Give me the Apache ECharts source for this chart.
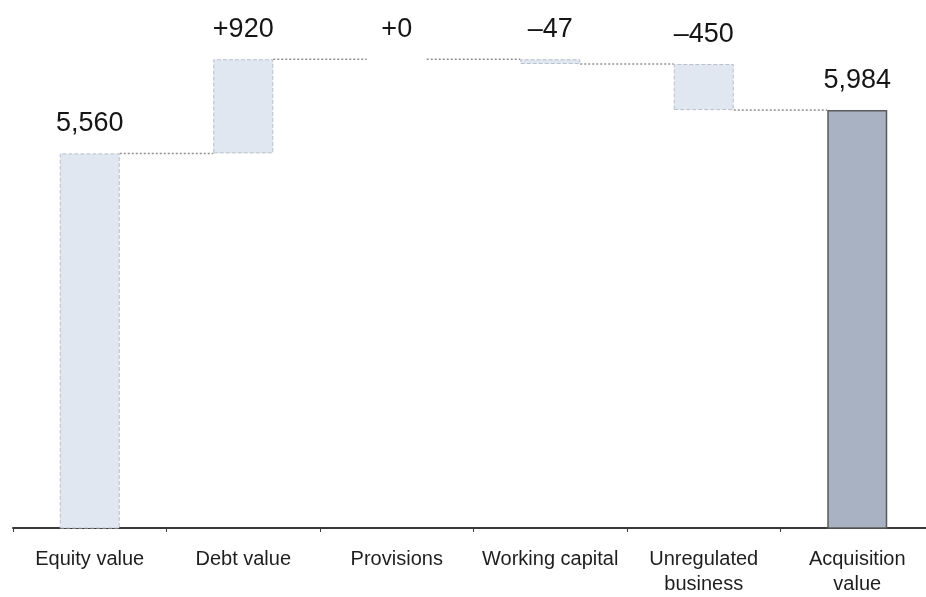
<!DOCTYPE html>
<html>
<head>
<meta charset="utf-8">
<script src="https://cdn.jsdelivr.net/npm/echarts@6/dist/echarts.min.js"></script>
<style>
html,body{margin:0;padding:0;background:#fff;overflow:hidden;}
#chart{width:926px;height:597px;}
</style>
</head>
<body>
<div id="chart"></div>
<script>
var categories = ['Equity value', 'Debt value', 'Provisions', 'Working capital', 'Unregulated\nbusiness', 'Acquisition\nvalue'];
var values = [5560, 920, 0, -47, -450, 5984];
var isTotal = [true, false, false, false, false, true];
var valueLabels = ['5,560', '+920', '+0', '\u201347', '\u2013450', '5,984'];

var base = [], height = [], levels = [];
var running = 0;
for (var i = 0; i < values.length; i++) {
  if (isTotal[i]) { base.push(0); height.push(values[i]); running = values[i]; }
  else if (values[i] >= 0) { base.push(running); height.push(values[i]); running += values[i]; }
  else { running += values[i]; base.push(running); height.push(-values[i]); }
  levels.push(running);
}
var connectors = [];
for (var j = 0; j < values.length - 1; j++) connectors.push([j, levels[j]]);

var BAR_W = 60;
var chart = echarts.init(document.getElementById('chart'));
chart.setOption({
  animation: false,
  backgroundColor: '#fff',
  grid: { left: 13, width: 921, top: 6, bottom: 69, containLabel: false, outerBoundsMode: 'none' },
  xAxis: {
    type: 'category',
    data: categories,
    axisLine: { lineStyle: { color: '#3a3a3a', width: 2 } },
    axisTick: { show: true, length: 4, lineStyle: { color: '#3a3a3a', width: 1 } },
    axisLabel: {
      color: '#1e1e1e', fontSize: 20, fontFamily: 'Liberation Sans, Arial, sans-serif',
      margin: 19, lineHeight: 25, interval: 0
    }
  },
  yAxis: { type: 'value', min: 1900, max: 7000, show: false, splitLine: { show: false } },
  series: [
    {
      type: 'bar', stack: 'w', barWidth: BAR_W, silent: true,
      itemStyle: { color: 'transparent' },
      data: base
    },
    {
      type: 'bar', stack: 'w', barWidth: BAR_W,
      data: height.map(function (h, k) {
        var st;
        if (k === values.length - 1) st = { color: '#a9b2c2', borderColor: '#5a5a5a', borderWidth: 1.5 };
        else if (h === 0) st = { color: 'transparent', borderWidth: 0 };
        else st = { color: '#e0e7f1', borderColor: '#b9bfc9', borderWidth: 1, borderType: 'dashed' };
        return { value: h, itemStyle: st };
      }),
      label: {
        show: true, position: 'top', distance: 16,
        fontSize: 27, color: '#151515', fontFamily: 'Liberation Sans, Arial, sans-serif',
        formatter: function (p) { return valueLabels[p.dataIndex]; }
      }
    },
    {
      type: 'custom', silent: true, z: 5,
      data: connectors,
      renderItem: function (params, api) {
        var i = api.value(0), lv = api.value(1);
        var p1 = api.coord([i, lv]);
        var p2 = api.coord([i + 1, lv]);
        return {
          type: 'line',
          shape: { x1: p1[0] + BAR_W / 2, y1: p1[1], x2: p2[0] - BAR_W / 2, y2: p2[1] },
          style: { stroke: '#8f8f8f', lineWidth: 1.5, lineDash: [2, 2] }
        };
      }
    }
  ]
});
</script>
</body>
</html>
